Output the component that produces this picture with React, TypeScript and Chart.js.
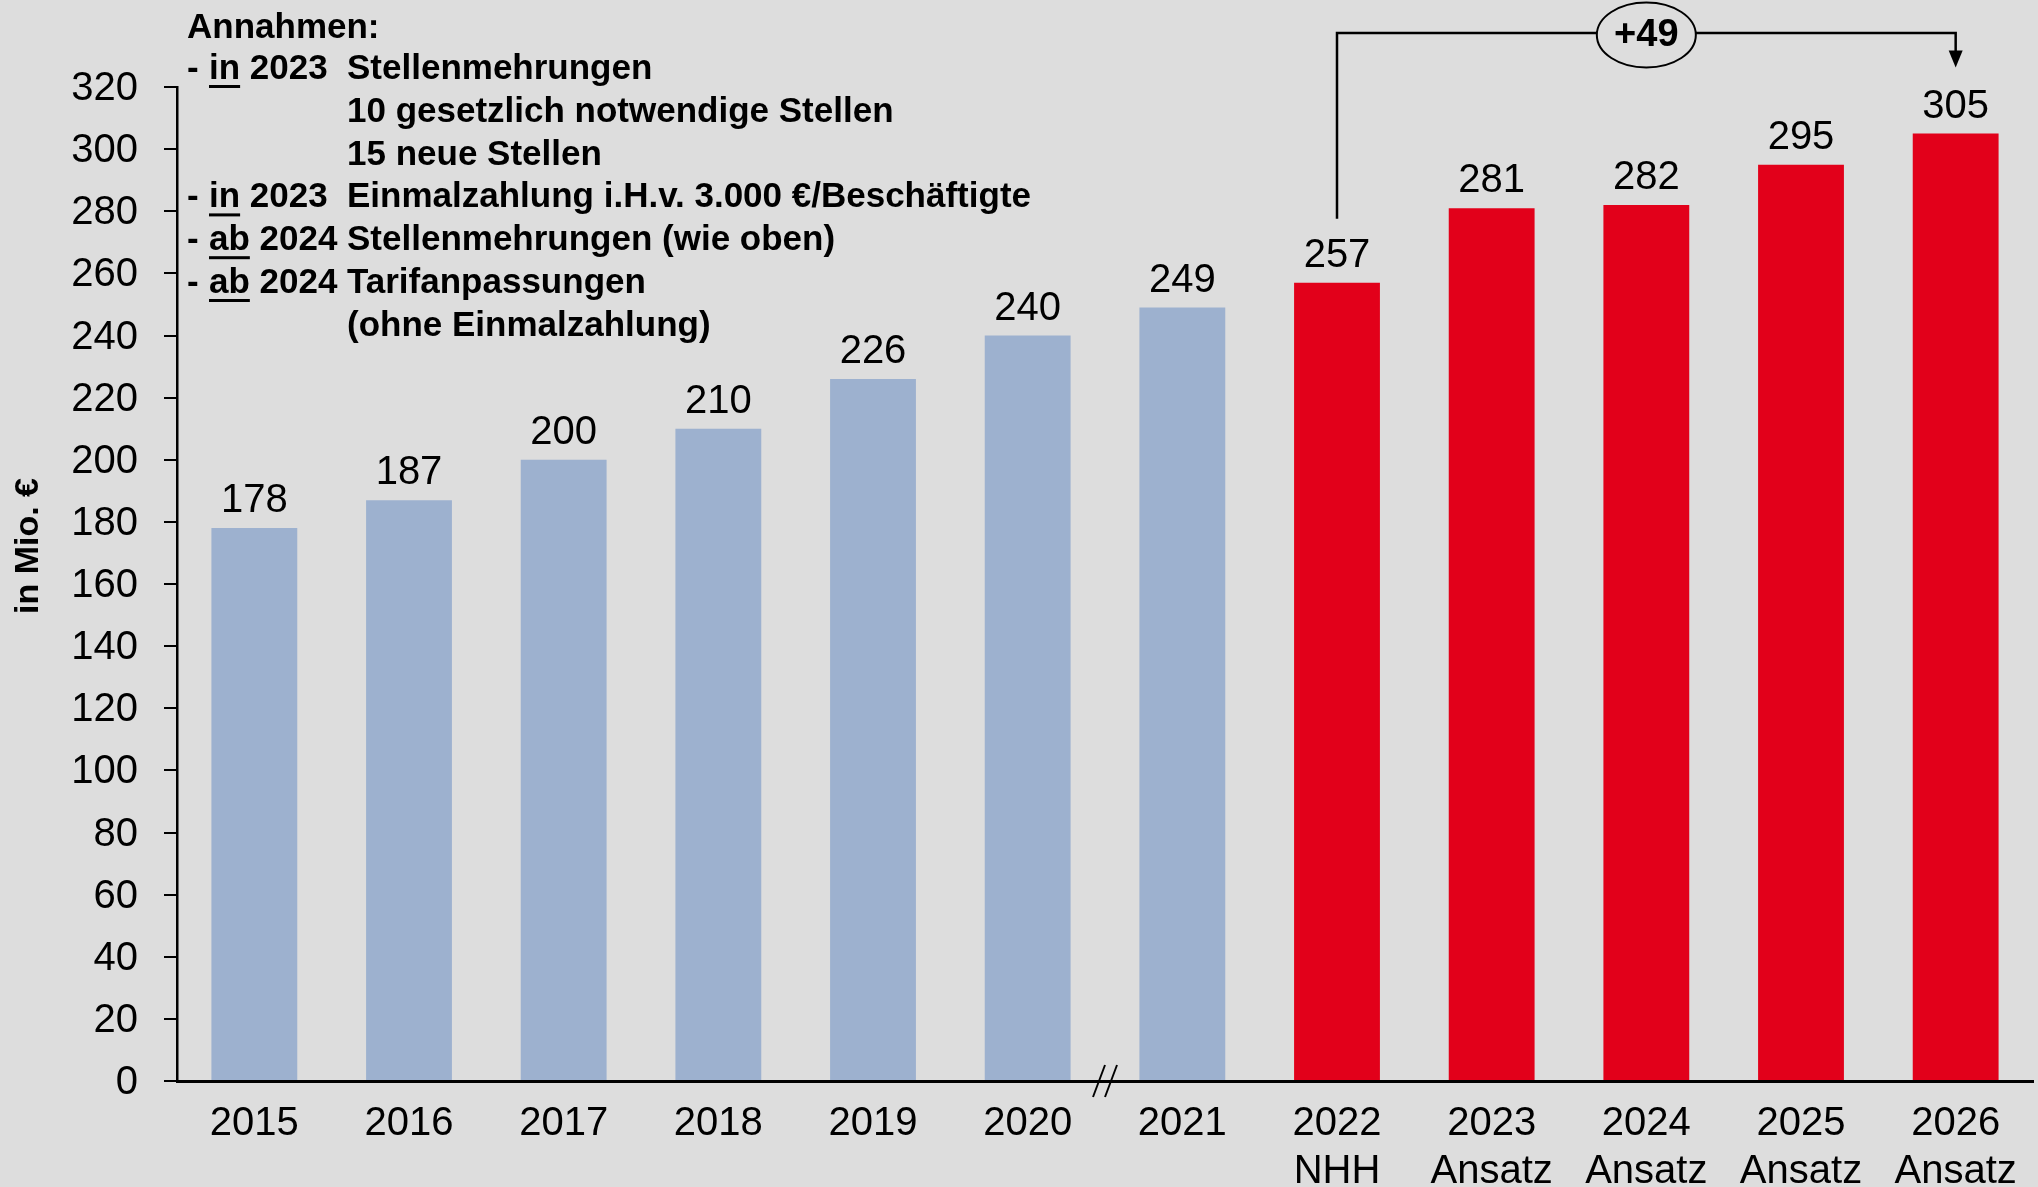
import React, { useEffect, useRef } from "react";
import { Chart, registerables } from "chart.js";

Chart.register(...registerables);

// ---- data ----
const categories: string[][] = [
  ["2015"], ["2016"], ["2017"], ["2018"], ["2019"], ["2020"], ["2021"],
  ["2022", "NHH"], ["2023", "Ansatz"], ["2024", "Ansatz"], ["2025", "Ansatz"], ["2026", "Ansatz"],
];
const values: number[] = [178, 187, 200, 210, 226, 240, 249, 257, 281, 282, 295, 305];
const barKinds: string[] = ["ist", "ist", "ist", "ist", "ist", "ist", "ist", "plan", "plan", "plan", "plan", "plan"];
const yMax = 320;
const yStep = 20;
const yTitle = "in Mio. €";
const deltaLabel = "+49";
const deltaFrom = 7; // index 2022 NHH
const deltaTo = 11; // index 2026 Ansatz
const breakAfter = 5; // axis break between 2020 and 2021
const noteTitle = "Annahmen:";
const noteKeywords: string[] = ["in", "", "", "in", "ab", "ab", ""];
const noteYears: string[] = ["2023", "", "", "2023", "2024", "2024", ""];
const noteTexts: string[] = [
  "Stellenmehrungen",
  "10 gesetzlich notwendige Stellen",
  "15 neue Stellen",
  "Einmalzahlung i.H.v. 3.000 €/Beschäftigte",
  "Stellenmehrungen (wie oben)",
  "Tarifanpassungen",
  "(ohne Einmalzahlung)",
];

const COLORS: Record<string, string> = { ist: "#9DB1CF", plan: "#E2001A" };
const BG = "#DDDDDD";
const FONT = "'Liberation Sans', Arial, Helvetica, sans-serif";

const overlayPlugin = {
  id: "overlay",
  afterDraw(chart: any) {
    const ctx = chart.ctx as CanvasRenderingContext2D;
    const xs = chart.scales.x;
    const ys = chart.scales.y;
    const meta = chart.getDatasetMeta(0);
    ctx.save();
    ctx.fillStyle = "#000";
    ctx.strokeStyle = "#000";

    // value labels
    ctx.font = `40px ${FONT}`;
    ctx.textAlign = "center";
    ctx.textBaseline = "middle";
    meta.data.forEach((bar: any, i: number) => {
      ctx.fillText(String(values[i]), bar.x, bar.y - 27);
    });

    // y title
    ctx.save();
    ctx.translate(29, 546);
    ctx.rotate(-Math.PI / 2);
    ctx.font = `bold 34px ${FONT}`;
    ctx.textAlign = "center";
    ctx.textBaseline = "middle";
    ctx.fillText(yTitle, 0, 0);
    ctx.restore();

    // axis break
    const bx = xs.getPixelForValue(breakAfter + 0.5);
    const by = xs.top;
    ctx.lineWidth = 2;
    for (const off of [-6, 6]) {
      ctx.beginPath();
      ctx.moveTo(bx + off - 6, by + 16);
      ctx.lineTo(bx + off + 6, by - 16);
      ctx.stroke();
    }

    // bracket +49
    const x1 = xs.getPixelForValue(deltaFrom);
    const x2 = xs.getPixelForValue(deltaTo);
    const lineY = 33;
    const y1 = ys.getPixelForValue(values[deltaFrom]) - 64;
    const tipY = ys.getPixelForValue(values[deltaTo]) - 66;
    ctx.lineWidth = 2.5;
    ctx.beginPath();
    ctx.moveTo(x1, y1);
    ctx.lineTo(x1, lineY);
    ctx.lineTo(x2, lineY);
    ctx.lineTo(x2, tipY - 16);
    ctx.stroke();
    ctx.beginPath();
    ctx.moveTo(x2 - 7, tipY - 17);
    ctx.lineTo(x2 + 7, tipY - 17);
    ctx.lineTo(x2, tipY);
    ctx.closePath();
    ctx.fill();
    const ex = (x1 + x2) / 2;
    const ey = 35;
    ctx.beginPath();
    ctx.ellipse(ex, ey, 49.5, 32.5, 0, 0, Math.PI * 2);
    ctx.fillStyle = BG;
    ctx.fill();
    ctx.lineWidth = 2;
    ctx.stroke();
    ctx.fillStyle = "#000";
    ctx.font = `bold 38px ${FONT}`;
    ctx.textAlign = "center";
    ctx.textBaseline = "middle";
    ctx.fillText(deltaLabel, ex, ey + 1);

    // notes
    ctx.font = `bold 35px ${FONT}`;
    ctx.textAlign = "left";
    ctx.textBaseline = "alphabetic";
    ctx.fillText(noteTitle, 187, 38);
    noteTexts.forEach((t, i) => {
      const base = 79 + 42.8 * i;
      if (noteKeywords[i]) {
        ctx.fillText("-", 187, base);
        const kw = noteKeywords[i];
        ctx.fillText(kw, 209, base);
        const kwW = ctx.measureText(kw).width;
        ctx.fillRect(209, base + 6, kwW, 3);
        ctx.fillText(noteYears[i], 209 + kwW + ctx.measureText(" ").width, base);
      }
      ctx.fillText(t, 347, base);
    });

    ctx.restore();
  },
};

export default function App() {
  const ref = useRef<HTMLCanvasElement | null>(null);

  useEffect(() => {
    if (!ref.current) return;
    Chart.defaults.font.family = FONT;
    const chart = new Chart(ref.current, {
      type: "bar",
      data: {
        labels: categories,
        datasets: [
          {
            data: values,
            backgroundColor: barKinds.map((k) => COLORS[k]),
            borderWidth: 0,
            categoryPercentage: 1,
            barPercentage: 0.555,
          },
        ],
      },
      options: {
        responsive: false,
        animation: false,
        layout: { padding: { top: 87, right: 5, bottom: 0, left: 0 } },
        plugins: {
          legend: { display: false },
          tooltip: { enabled: false },
        },
        scales: {
          x: {
            grid: { display: false },
            border: { display: true, color: "#000", width: 3, z: 1 },
            ticks: {
              color: "#000",
              font: { size: 40, lineHeight: 1.2 },
              padding: 11,
              maxRotation: 0,
              autoSkip: false,
            },
            afterFit: (s: any) => {
              s.height = 112;
            },
          },
          y: {
            min: 0,
            max: yMax,
            grid: {
              display: true,
              drawOnChartArea: false,
              drawTicks: true,
              tickLength: 13,
              color: "#000",
              lineWidth: 2,
            },
            border: { display: true, color: "#000", width: 2.5, z: 1 },
            ticks: {
              stepSize: yStep,
              color: "#000",
              font: { size: 40 },
              padding: 26,
              labelOffset: 2,
            },
            afterFit: (s: any) => {
              s.width = 177;
            },
          },
        },
      },
      plugins: [overlayPlugin],
    });
    return () => chart.destroy();
  }, []);

  return (
    <div
      style={{
        position: "fixed",
        left: 0,
        top: 0,
        width: 2038,
        height: 1187,
        overflow: "hidden",
        background: BG,
      }}
    >
      <canvas ref={ref} width={2038} height={1193} style={{ display: "block" }} />
    </div>
  );
}
